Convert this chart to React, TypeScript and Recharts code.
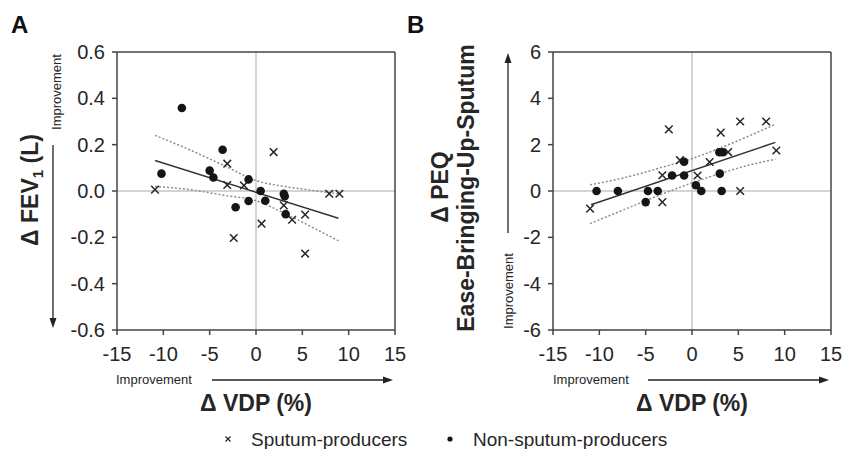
import { ComposedChart, ReferenceLine, Scatter, XAxis, YAxis } from 'recharts'

type Pt = { x: number; y: number }

const FONT = '"Liberation Sans", Arial, sans-serif'
const INK = '#262626'

// shared x axis (Δ VDP, %)
const vdpTicks = [-15, -10, -5, 0, 5, 10, 15]

// panel A: Δ FEV1 (L)
const fevTicks = [-0.6, -0.4, -0.2, 0, 0.2, 0.4, 0.6]

const fevSputum: Pt[] = [
  { x: -10.9, y: 0.006 },
  { x: -3.1, y: 0.118 },
  { x: -3.1, y: 0.026 },
  { x: -1.3, y: 0.024 },
  { x: 1.9, y: 0.168 },
  { x: -2.4, y: -0.203 },
  { x: 0.6, y: -0.141 },
  { x: 3.0, y: -0.062 },
  { x: 3.9, y: -0.124 },
  { x: 5.3, y: -0.102 },
  { x: 5.3, y: -0.27 },
  { x: 7.9, y: -0.012 },
  { x: 9.0, y: -0.012 },
]

const fevNonSputum: Pt[] = [
  { x: -8.0, y: 0.358 },
  { x: -10.2, y: 0.075 },
  { x: -3.6, y: 0.178 },
  { x: -5.0, y: 0.088 },
  { x: -4.6, y: 0.058 },
  { x: -0.8, y: 0.05 },
  { x: -2.2, y: -0.07 },
  { x: -0.8, y: -0.043 },
  { x: 0.5, y: 0.0 },
  { x: 1.0, y: -0.042 },
  { x: 3.0, y: -0.012 },
  { x: 3.1, y: -0.023 },
  { x: 3.2, y: -0.1 },
]

const fevFit: Pt[] = [
  { x: -10.9, y: 0.132 },
  { x: 8.9, y: -0.118 },
]
const fevUpper: Pt[] = [
  { x: -10.9, y: 0.24 },
  { x: -7, y: 0.175 },
  { x: -3.2, y: 0.105 },
  { x: 0, y: 0.045 },
  { x: 3, y: 0.02 },
  { x: 6, y: 0.003 },
  { x: 8.9, y: -0.012 },
]
const fevLower: Pt[] = [
  { x: -10.9, y: 0.02 },
  { x: -7, y: 0.005 },
  { x: -3.2, y: -0.02 },
  { x: 0, y: -0.042 },
  { x: 3, y: -0.095 },
  { x: 6, y: -0.155 },
  { x: 8.9, y: -0.215 },
]

// panel B: Δ PEQ Ease-Bringing-Up-Sputum
const peqTicks = [-6, -4, -2, 0, 2, 4, 6]

const peqSputum: Pt[] = [
  { x: -11.0, y: -0.76 },
  { x: -2.5, y: 2.66 },
  { x: -3.2, y: 0.68 },
  { x: -3.2, y: -0.48 },
  { x: -1.3, y: 1.33 },
  { x: 0.6, y: 0.67 },
  { x: 1.9, y: 1.25 },
  { x: 3.1, y: 2.52 },
  { x: 5.2, y: 3.0 },
  { x: 5.2, y: 0.0 },
  { x: 8.0, y: 3.0 },
  { x: 3.9, y: 1.68 },
  { x: 9.1, y: 1.75 },
]

const peqNonSputum: Pt[] = [
  { x: -10.3, y: 0 },
  { x: -8.0, y: 0 },
  { x: -5.0, y: -0.48 },
  { x: -4.75, y: 0 },
  { x: -3.7, y: 0 },
  { x: -2.15, y: 0.67 },
  { x: -0.85, y: 1.26 },
  { x: -0.85, y: 0.67 },
  { x: 0.42, y: 0.25 },
  { x: 1.0, y: 0 },
  { x: 3.0, y: 0.75 },
  { x: 2.95, y: 1.67 },
  { x: 3.3, y: 1.67 },
  { x: 3.2, y: 0 },
]

const peqFit: Pt[] = [
  { x: -10.9, y: -0.59 },
  { x: 9.0, y: 2.1 },
]
const peqUpper: Pt[] = [
  { x: -11, y: 0.27 },
  { x: -7, y: 0.6 },
  { x: -3, y: 1.05 },
  { x: 0, y: 1.4 },
  { x: 3, y: 1.85 },
  { x: 6, y: 2.35 },
  { x: 9, y: 2.88 },
]
const peqLower: Pt[] = [
  { x: -11, y: -1.41 },
  { x: -7, y: -0.75 },
  { x: -3, y: -0.1 },
  { x: 0, y: 0.35 },
  { x: 3, y: 0.75 },
  { x: 6, y: 1.1 },
  { x: 9, y: 1.37 },
]

function CrossMark(props: any) {
  const { cx, cy } = props
  if (cx == null || cy == null) return <g />
  const r = 3.8
  return (
    <path
      d={`M${cx - r},${cy - r}L${cx + r},${cy + r}M${cx - r},${cy + r}L${cx + r},${cy - r}`}
      stroke={INK}
      strokeWidth={1.5}
      fill="none"
    />
  )
}

function DotMark(props: any) {
  const { cx, cy } = props
  if (cx == null || cy == null) return <g />
  return <circle cx={cx} cy={cy} r={4.3} fill="#151515" />
}

const NoMark = () => <g />

type PanelProps = {
  left: number
  width: number
  marginLeft: number
  marginRight: number
  yTicks: number[]
  yFormat: (v: number) => string
  sputum: Pt[]
  nonSputum: Pt[]
  fit: Pt[]
  upper: Pt[]
  lower: Pt[]
}

function Panel({ left, width, marginLeft, marginRight, yTicks, yFormat, sputum, nonSputum, fit, upper, lower }: PanelProps) {
  const yMin = yTicks[0]
  const yMax = yTicks[yTicks.length - 1]
  const tick = { fill: INK, fontSize: 20, fontFamily: FONT }
  const dotted = { stroke: '#8c8c8c', strokeWidth: 1.5, strokeDasharray: '2 2' }
  return (
    <div style={{ position: 'absolute', left, top: 0 }}>
      <ComposedChart
        width={width}
        height={449}
        margin={{ top: 52, right: marginRight, bottom: 89, left: marginLeft }}
      >
        <XAxis
          type="number"
          dataKey="x"
          domain={[-15, 15]}
          ticks={vdpTicks}
          allowDataOverflow
          height={30}
          tick={tick}
          tickSize={5}
          tickMargin={12}
          stroke="#444"
          strokeWidth={1.5}
        />
        <YAxis
          type="number"
          dataKey="y"
          domain={[yMin, yMax]}
          ticks={yTicks}
          allowDataOverflow
          width={60}
          tick={tick}
          tickFormatter={yFormat}
          tickSize={5}
          tickMargin={7}
          stroke="#444"
          strokeWidth={1.5}
        />
        <ReferenceLine x={0} stroke="#c6c6c6" strokeWidth={1.5} />
        <ReferenceLine y={0} stroke="#c6c6c6" strokeWidth={1.5} />
        <ReferenceLine x={15} stroke="#444" strokeWidth={1.5} />
        <ReferenceLine y={yMax} stroke="#444" strokeWidth={1.5} />
        <Scatter data={upper} line={dotted} lineJointType="monotoneX" shape={NoMark} isAnimationActive={false} />
        <Scatter data={lower} line={dotted} lineJointType="monotoneX" shape={NoMark} isAnimationActive={false} />
        <Scatter data={fit} line={{ stroke: '#333', strokeWidth: 1.5 }} shape={NoMark} isAnimationActive={false} />
        <Scatter data={sputum} shape={CrossMark} isAnimationActive={false} />
        <Scatter data={nonSputum} shape={DotMark} isAnimationActive={false} />
      </ComposedChart>
    </div>
  )
}

function VLabel({ x, y, size, bold, children }: { x: number; y: number; size: number; bold?: boolean; children: any }) {
  return (
    <text
      transform={`translate(${x},${y}) rotate(-90)`}
      textAnchor="middle"
      fontSize={size}
      fontWeight={bold ? 'bold' : 'normal'}
      fontFamily={FONT}
      fill={INK}
    >
      {children}
    </text>
  )
}

function Overlay() {
  const arrow = { stroke: '#222', strokeWidth: 1.3 }
  return (
    <svg width={845} height={449} style={{ position: 'absolute', left: 0, top: 0, pointerEvents: 'none' }}>
      <text x={11} y={33} fontSize={24} fontWeight="bold" fontFamily={FONT} fill="#111">A</text>
      <text x={407} y={33} fontSize={24} fontWeight="bold" fontFamily={FONT} fill="#111">B</text>

      {/* panel A, y side */}
      <VLabel x={38} y={190} size={23} bold>
        Δ FEV<tspan fontSize={15} dy={5}>1</tspan>
        <tspan dy={-5}> (L)</tspan>
      </VLabel>
      <VLabel x={61} y={92} size={13}>Improvement</VLabel>
      <line x1={53} y1={145} x2={53} y2={320} {...arrow} />
      <polygon points="53,328 49.5,318 56.5,318" fill="#222" />

      {/* panel A, x side */}
      <text x={116} y={384} fontSize={13} fontFamily={FONT} fill={INK}>Improvement</text>
      <line x1={212} y1={380} x2={386} y2={380} {...arrow} />
      <polygon points="393,380 383,376.5 383,383.5" fill="#222" />
      <text x={256} y={411} textAnchor="middle" fontSize={23} fontWeight="bold" fontFamily={FONT} fill={INK}>
        Δ VDP (%)
      </text>

      {/* panel B, y side */}
      <VLabel x={448} y={187} size={23} bold>Δ PEQ</VLabel>
      <VLabel x={474} y={188} size={23} bold>Ease-Bringing-Up-Sputum</VLabel>
      <line x1={508} y1={233} x2={508} y2={61} {...arrow} />
      <polygon points="508,53 504.5,63 511.5,63" fill="#222" />
      <VLabel x={513} y={291} size={13}>Improvement</VLabel>

      {/* panel B, x side */}
      <text x={553} y={384} fontSize={13} fontFamily={FONT} fill={INK}>Improvement</text>
      <line x1={648} y1={380} x2={822} y2={380} {...arrow} />
      <polygon points="829,380 819,376.5 819,383.5" fill="#222" />
      <text x={692} y={411} textAnchor="middle" fontSize={23} fontWeight="bold" fontFamily={FONT} fill={INK}>
        Δ VDP (%)
      </text>

      {/* legend */}
      <path d="M225.5,436.5L230.5,441.5M225.5,441.5L230.5,436.5" stroke={INK} strokeWidth={1.2} />
      <text x={251} y={446} fontSize={19} fontFamily={FONT} fill={INK}>Sputum-producers</text>
      <circle cx={450} cy={439} r={2.6} fill="#151515" />
      <text x={473} y={446} fontSize={19} fontFamily={FONT} fill={INK}>Non-sputum-producers</text>
    </svg>
  )
}

export default function App() {
  return (
    <div style={{ position: 'absolute', left: 0, top: 0, width: 845, height: 449, background: '#fff' }}>
      <Panel
        left={0}
        width={420}
        marginLeft={57}
        marginRight={25}
        yTicks={fevTicks}
        yFormat={(v) => v.toFixed(1)}
        sputum={fevSputum}
        nonSputum={fevNonSputum}
        fit={fevFit}
        upper={fevUpper}
        lower={fevLower}
      />
      <Panel
        left={420}
        width={425}
        marginLeft={73}
        marginRight={14}
        yTicks={peqTicks}
        yFormat={(v) => String(v)}
        sputum={peqSputum}
        nonSputum={peqNonSputum}
        fit={peqFit}
        upper={peqUpper}
        lower={peqLower}
      />
      <Overlay />
    </div>
  )
}
